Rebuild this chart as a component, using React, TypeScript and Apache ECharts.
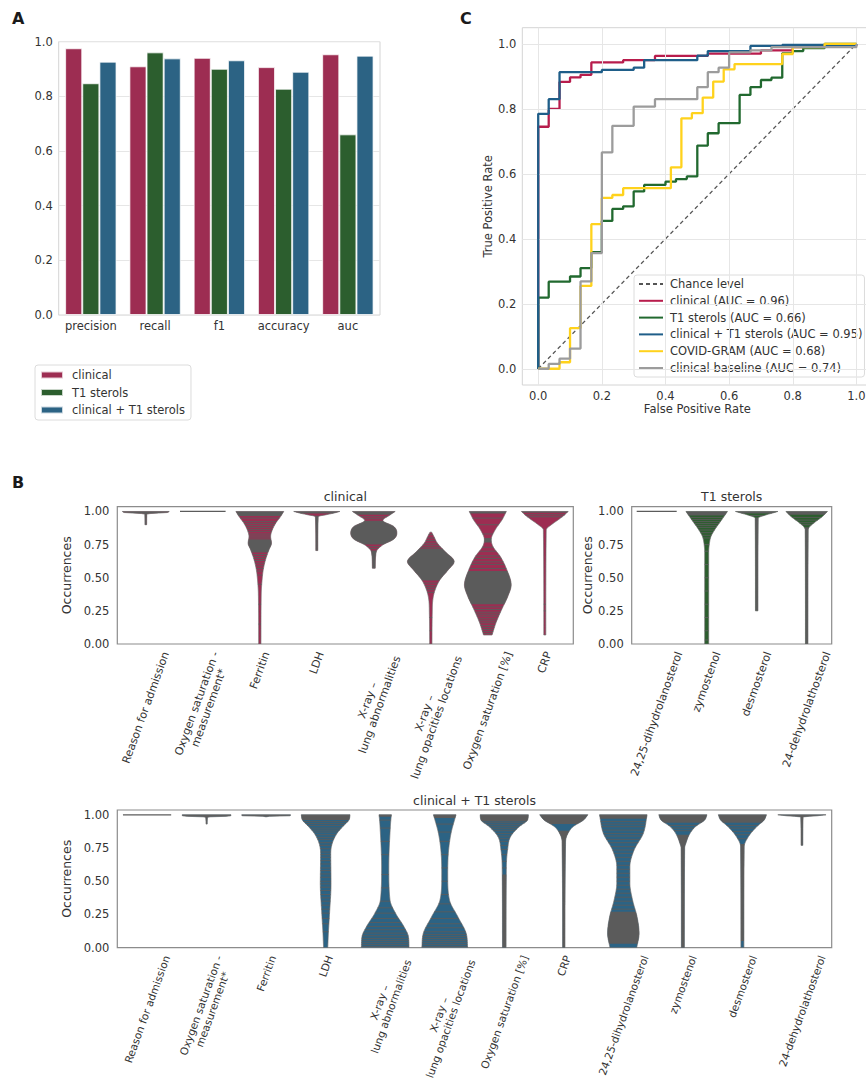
import React, { useEffect, useRef } from 'react';
import * as echarts from 'echarts';

const FONT = '"DejaVu Sans", sans-serif';
const TXT = '#333333';
const GRAY = '#5b5b5b';

// ---------- Panel A : metrics ----------
const metrics = ['precision', 'recall', 'f1', 'accuracy', 'auc'];
const clinicalScores = [0.976, 0.91, 0.941, 0.907, 0.954];
const t1Scores = [0.848, 0.961, 0.901, 0.828, 0.661];
const comboScores = [0.927, 0.939, 0.932, 0.89, 0.949];
const barNames = ['clinical', 'T1 sterols', 'clinical + T1 sterols'];
const barColors = ['#9d2d52', '#2c5e2e', '#2c6384'];

// ---------- Panel C : ROC ----------
const rocNames = [
  'Chance level',
  'clinical (AUC = 0.96)',
  'T1 sterols (AUC = 0.66)',
  'clinical + T1 sterols (AUC = 0.95)',
  'COVID-GRAM (AUC = 0.68)',
  'clinical baseline (AUC = 0.74)',
];
const rocColors = ['#555555', '#b81c4c', '#21692f', '#1f5e89', '#ffd21c', '#9c9c9c'];
const rocChance = [[0, 0], [1, 1]];
const rocClinical = [[0, 0], [0, 0.745], [0.033, 0.8], [0.067, 0.883], [0.1, 0.897], [0.133, 0.905], [0.167, 0.943], [0.267, 0.95], [0.367, 0.963], [0.533, 0.97], [0.7, 0.98], [0.8, 0.99], [0.9, 0.995], [1, 1]];
const rocT1 = [[0, 0], [0, 0.219], [0.033, 0.268], [0.1, 0.284], [0.133, 0.31], [0.167, 0.359], [0.2, 0.455], [0.233, 0.492], [0.267, 0.5], [0.3, 0.546], [0.333, 0.566], [0.4, 0.576], [0.433, 0.584], [0.467, 0.592], [0.5, 0.687], [0.533, 0.725], [0.567, 0.756], [0.633, 0.843], [0.667, 0.867], [0.7, 0.889], [0.733, 0.896], [0.767, 0.971], [0.8, 0.978], [0.833, 0.987], [0.9, 1], [1, 1]];
const rocCombo = [[0, 0], [0, 0.785], [0.033, 0.83], [0.067, 0.913], [0.2, 0.92], [0.3, 0.927], [0.333, 0.95], [0.5, 0.964], [0.533, 0.978], [0.667, 0.994], [0.767, 0.997], [1, 1]];
const rocCovidGram = [[0, 0], [0.067, 0.02], [0.1, 0.125], [0.133, 0.255], [0.167, 0.445], [0.2, 0.526], [0.233, 0.535], [0.267, 0.556], [0.417, 0.62], [0.45, 0.771], [0.483, 0.787], [0.517, 0.835], [0.55, 0.884], [0.583, 0.922], [0.617, 0.938], [0.767, 0.969], [0.8, 0.99], [0.9, 1], [1, 1]];
const rocBaseline = [[0, 0], [0.033, 0.015], [0.067, 0.031], [0.1, 0.062], [0.133, 0.269], [0.167, 0.356], [0.2, 0.666], [0.233, 0.748], [0.3, 0.807], [0.367, 0.83], [0.5, 0.867], [0.533, 0.913], [0.567, 0.927], [0.6, 0.974], [0.667, 0.98], [0.733, 0.99], [1, 1]];
const rocTicks = [0, 0.2, 0.4, 0.6, 0.8, 1.0];

// ---------- Panel B : violins ----------
const clinicalFeatures = [
  'Reason for admission',
  'Oxygen saturation -\nmeasurement*',
  'Ferritin',
  'LDH',
  'X-ray –\nlung abnormalities',
  'X-ray –\nlung opacities locations',
  'Oxygen saturation [%]',
  'CRP',
];
const t1Features = ['24,25-dihydrolanosterol', 'zymostenol', 'desmosterol', '24-dehydrolathosterol'];
const comboFeatures = [...clinicalFeatures, ...t1Features];

// outline: [occurrence value, width as fraction of category]
const clinicalShapes = [
  [[0.9, 0.03], [0.98, 0.035], [0.985, 0.2], [0.992, 0.75], [1.0, 0.82]],
  [[1.0, 0.8]],
  [[0, 0.04], [0.38, 0.05], [0.484, 0.08], [0.559, 0.12], [0.635, 0.2], [0.71, 0.32], [0.761, 0.41], [0.811, 0.38], [0.862, 0.44], [0.912, 0.56], [0.962, 0.73], [1.0, 0.84]],
  [[0.705, 0.035], [0.962, 0.05], [0.975, 0.32], [0.988, 0.6], [1.0, 0.81]],
  [[0.572, 0.05], [0.673, 0.07], [0.71, 0.12], [0.748, 0.32], [0.791, 0.7], [0.837, 0.81], [0.887, 0.7], [0.932, 0.32], [0.975, 0.58], [1.0, 0.75]],
  [[0, 0.04], [0.23, 0.05], [0.333, 0.07], [0.408, 0.15], [0.484, 0.32], [0.559, 0.61], [0.622, 0.82], [0.698, 0.5], [0.761, 0.23], [0.811, 0.11], [0.844, 0.03]],
  [[0.068, 0.15], [0.156, 0.28], [0.257, 0.48], [0.358, 0.7], [0.446, 0.82], [0.559, 0.67], [0.66, 0.44], [0.736, 0.18], [0.786, 0.12], [0.862, 0.26], [0.937, 0.5], [1.0, 0.65]],
  [[0.068, 0.035], [0.862, 0.05], [0.9, 0.23], [0.937, 0.47], [0.975, 0.7], [1.0, 0.82]],
];
const clinicalDense = [
  [[0.9, 1.0]], [], [[0.965, 1.0], [0.69, 0.79]], [[0.985, 1.0], [0.705, 0.968]],
  [[0.975, 1.0], [0.75, 0.93], [0.572, 0.705]], [[0.48, 0.72]], [[0.985, 1.0], [0.3, 0.55], [0.765, 0.8]], [[0.99, 1.0]],
];
const clinicalSticks = [
  [], [],
  [0.95, 0.925, 0.91, 0.895, 0.88, 0.865, 0.85, 0.83, 0.815, 0.8, 0.675, 0.66, 0.645, 0.63, 0.61, 0.59, 0.57, 0.55, 0.52, 0.45, 0.3, 0.15],
  [],
  [0.96, 0.945, 0.735, 0.72],
  [0.825, 0.8, 0.78, 0.76, 0.745, 0.73, 0.46, 0.44, 0.425, 0.41, 0.39, 0.2, 0.1],
  [0.08, 0.095, 0.11, 0.125, 0.14, 0.16, 0.175, 0.19, 0.21, 0.225, 0.24, 0.26, 0.28, 0.57, 0.6, 0.62, 0.645, 0.665, 0.7, 0.73, 0.83, 0.9, 0.95],
  [0.975, 0.96, 0.3, 0.25],
];

const t1Shapes = [
  [[1.0, 0.8]],
  [[0, 0.08], [0.686, 0.08], [0.761, 0.11], [0.811, 0.17], [0.862, 0.32], [0.937, 0.6], [1.0, 0.83]],
  [[0.25, 0.05], [0.95, 0.06], [0.97, 0.3], [0.988, 0.63], [1.0, 0.85]],
  [[0, 0.05], [0.862, 0.06], [0.887, 0.13], [0.925, 0.37], [0.962, 0.63], [1.0, 0.83]],
];
const t1Dense = [[], [[0.97, 1.0]], [[0.25, 0.955], [0.985, 1.0]], [[0, 0.88], [0.975, 1.0]]];
const t1Sticks = [
  [],
  [0.955, 0.94, 0.925, 0.91, 0.895, 0.88, 0.86, 0.84, 0.82, 0.8, 0.75, 0.7, 0.6, 0.5, 0.4, 0.3, 0.2, 0.1, 0.03],
  [0.97],
  [0.955, 0.935, 0.915, 0.9],
];

const comboShapes = [
  [[1.0, 0.81]],
  [[0.93, 0.02], [0.98, 0.03], [0.985, 0.15], [0.99, 0.8], [1.0, 0.82]],
  [[0.985, 0.02], [0.988, 0.03], [0.992, 0.8], [1.0, 0.82]],
  [[0, 0.07], [0.108, 0.09], [0.258, 0.13], [0.484, 0.18], [0.71, 0.17], [0.785, 0.22], [0.86, 0.38], [0.91, 0.57], [0.96, 0.78], [1.0, 0.82]],
  [[0, 0.8], [0.083, 0.78], [0.158, 0.63], [0.258, 0.35], [0.36, 0.16], [0.61, 0.12], [0.86, 0.16], [0.985, 0.2], [1.0, 0.21]],
  [[0, 0.77], [0.108, 0.72], [0.233, 0.44], [0.358, 0.16], [0.534, 0.1], [0.71, 0.12], [0.86, 0.21], [0.97, 0.34], [1.0, 0.38]],
  [[0, 0.06], [0.609, 0.07], [0.734, 0.11], [0.835, 0.21], [0.91, 0.5], [0.96, 0.78], [1.0, 0.81]],
  [[0, 0.04], [0.8, 0.06], [0.86, 0.14], [0.91, 0.31], [0.96, 0.66], [1.0, 0.81]],
  [[0, 0.45], [0.108, 0.53], [0.233, 0.46], [0.358, 0.31], [0.484, 0.22], [0.609, 0.22], [0.734, 0.36], [0.86, 0.67], [1.0, 0.8]],
  [[0, 0.05], [0.75, 0.06], [0.785, 0.1], [0.86, 0.24], [0.91, 0.42], [0.96, 0.73], [1.0, 0.81]],
  [[0, 0.05], [0.76, 0.06], [0.835, 0.2], [0.91, 0.48], [0.96, 0.73], [1.0, 0.81]],
  [[0.77, 0.03], [0.985, 0.04], [0.99, 0.4], [1.0, 0.81]],
];
const comboDense = [
  [], [[0.93, 1.0]], [[0.985, 1.0]], [[0.96, 1.0]], [[0.985, 1.0]], [[0.975, 1.0]],
  [[0.95, 1.0], [0, 0.55]], [[0, 0.88], [0.93, 1.0]], [[0.97, 1.0], [0.03, 0.27]],
  [[0.94, 1.0], [0, 0.85]], [[0.94, 1.0], [0.05, 0.78]], [[0.77, 1.0]],
];
const comboSticks = [
  [], [], [],
  [0.95, 0.935, 0.92, 0.9, 0.885, 0.87, 0.85, 0.83, 0.815, 0.79, 0.77, 0.745, 0.72, 0.7, 0.68, 0.655, 0.63, 0.6, 0.58, 0.555, 0.53, 0.5, 0.48, 0.455, 0.43, 0.4, 0.375, 0.35, 0.32, 0.29, 0.26, 0.22, 0.18, 0.12],
  [0.01, 0.025, 0.04, 0.055, 0.07, 0.09, 0.11, 0.135, 0.16, 0.19, 0.22, 0.26, 0.3, 0.35, 0.45, 0.55, 0.7, 0.8, 0.9, 0.96],
  [0.01, 0.025, 0.04, 0.055, 0.07, 0.085, 0.1, 0.12, 0.15, 0.18, 0.22, 0.27, 0.33, 0.4, 0.5, 0.6, 0.7, 0.8, 0.87, 0.93],
  [0.94, 0.925, 0.91, 0.895, 0.88, 0.86, 0.84, 0.82, 0.8, 0.77, 0.74, 0.7, 0.65, 0.6],
  [],
  [0.95, 0.93, 0.91, 0.885, 0.86, 0.84, 0.815, 0.79, 0.76, 0.735, 0.71, 0.68, 0.65, 0.62, 0.59, 0.56, 0.53, 0.5, 0.47, 0.44, 0.41, 0.38, 0.35, 0.32, 0.29],
  [0.92, 0.9, 0.88],
  [0.92, 0.9, 0.875, 0.85, 0.82],
  [],
];

// ---------- helpers: smooth (monotone cubic) outline through the read profile ----------
const makeWidthFn = (shape: number[][]) => {
  const n = shape.length;
  const ys = shape.map((p) => p[0]);
  const ws = shape.map((p) => p[1]);
  const d: number[] = [];
  for (let k = 0; k < n - 1; k++) d.push((ws[k + 1] - ws[k]) / (ys[k + 1] - ys[k]));
  const m: number[] = new Array(n).fill(0);
  if (n > 1) {
    m[0] = d[0];
    m[n - 1] = d[n - 2];
    for (let k = 1; k < n - 1; k++) m[k] = d[k - 1] * d[k] <= 0 ? 0 : (d[k - 1] + d[k]) / 2;
    for (let k = 0; k < n - 1; k++) {
      if (d[k] === 0) { m[k] = 0; m[k + 1] = 0; continue; }
      const a = m[k] / d[k];
      const b = m[k + 1] / d[k];
      const s = a * a + b * b;
      if (s > 9) {
        const t = 3 / Math.sqrt(s);
        m[k] = t * a * d[k];
        m[k + 1] = t * b * d[k];
      }
    }
  }
  return (v: number) => {
    if (v <= ys[0]) return ws[0];
    if (v >= ys[n - 1]) return ws[n - 1];
    let k = 0;
    while (k < n - 2 && v > ys[k + 1]) k++;
    const h = ys[k + 1] - ys[k];
    const t = (v - ys[k]) / h;
    const t2 = t * t, t3 = t2 * t;
    return (2 * t3 - 3 * t2 + 1) * ws[k] + (t3 - 2 * t2 + t) * h * m[k] + (-2 * t3 + 3 * t2) * ws[k + 1] + (t3 - t2) * h * m[k + 1];
  };
};

const makeViolinRender = (shapes: number[][][], dense: number[][][], sticks: number[][], color: string) => {
  const fns = shapes.map((s) => makeWidthFn(s));
  return (params: any, api: any) => {
    const i = api.value(0);
    const shape = shapes[i];
    const wf = fns[i];
    const band = api.size([1, 0])[0];
    const cx = api.coord([i, 0])[0];
    const py = (v: number) => api.coord([i, v])[1];
    const lo0 = shape[0][0];
    const hi0 = shape[shape.length - 1][0];
    const sampleYs = (a: number, b: number) => {
      const out: number[] = [a];
      const steps = Math.max(2, Math.ceil((b - a) / 0.004));
      for (let s = 1; s < steps; s++) out.push(a + ((b - a) * s) / steps);
      out.push(b);
      return out;
    };
    const outline = (a: number, b: number) => {
      const ys = sampleYs(a, b);
      const right = ys.map((v) => [cx + (wf(v) * band) / 2, py(v)]);
      const left = ys.slice().reverse().map((v) => [cx - (wf(v) * band) / 2, py(v)]);
      return right.concat(left);
    };
    const children: any[] = [];
    if (shape.length === 1) {
      const [v, w] = shape[0];
      children.push({
        type: 'line',
        shape: { x1: cx - (w * band) / 2, y1: py(v), x2: cx + (w * band) / 2, y2: py(v) },
        style: { stroke: GRAY, lineWidth: 1.3 },
      });
      return { type: 'group', children };
    }
    children.push({ type: 'polygon', shape: { points: outline(lo0, hi0) }, style: { fill: color, stroke: 'none' } });
    dense[i].forEach(([lo, hi]) => {
      const a = Math.max(lo, lo0);
      const b = Math.min(hi, hi0);
      if (b > a) children.push({ type: 'polygon', shape: { points: outline(a, b) }, style: { fill: GRAY, stroke: 'none' } });
    });
    sticks[i].forEach((v) => {
      const w = wf(v);
      children.push({
        type: 'line',
        shape: { x1: cx - (w * band) / 2, y1: py(v), x2: cx + (w * band) / 2, y2: py(v) },
        style: { stroke: GRAY, lineWidth: 0.9 },
      });
    });
    children.push({ type: 'polygon', shape: { points: outline(lo0, hi0) }, style: { fill: 'none', stroke: '#6a6a6a', lineWidth: 0.7 } });
    return { type: 'group', children };
  };
};

const rocLabel = (v: number) => {
  if (v < -1e-6 || v > 1 + 1e-6) return '';
  return Math.abs(v / 0.2 - Math.round(v / 0.2)) < 1e-4 ? v.toFixed(1) : '';
};
const violinLabel = (v: number) =>
  Math.abs(v * 4 - Math.round(v * 4)) < 1e-4 && v <= 1.0001 ? v.toFixed(2) : '';

export default function App() {
  const ref = useRef<HTMLDivElement>(null);
  useEffect(() => {
    const el = ref.current;
    if (!el) return;
    const chart = echarts.init(el, null, { renderer: 'svg' });
    const axisText = { fontSize: 11.5, color: TXT, fontFamily: FONT };

    const violinGrid = (left: number, top: number, width: number, height: number) => ({
      left, top, width, height, show: true, borderColor: '#8c8c8c', borderWidth: 1.2, outerBoundsMode: 'none',
    });
    const violinX = (gridIndex: number, data: string[]) => ({
      gridIndex, type: 'category', data,
      axisLabel: { show: false }, axisTick: { show: false }, axisLine: { show: false }, splitLine: { show: false },
    });
    const violinY = (gridIndex: number) => ({
      gridIndex, type: 'value', min: 0, max: 1.036, interval: 0.25,
      axisLabel: { ...axisText, formatter: violinLabel, margin: 8 },
      axisTick: { show: false }, axisLine: { show: false }, splitLine: { show: false },
      name: 'Occurrences', nameLocation: 'middle', nameGap: 38,
      nameTextStyle: { fontSize: 12.5, color: TXT, fontFamily: FONT },
    });

    const rocSeriesData = [rocChance, rocClinical, rocT1, rocCombo, rocCovidGram, rocBaseline];

    const option: any = {
      animation: false,
      textStyle: { fontFamily: FONT },
      grid: [
        { left: 58.7, top: 41.7, width: 321.3, height: 273.3, show: true, borderColor: '#d4d4d4', borderWidth: 1, outerBoundsMode: 'none' },
        { left: 522.3, top: 27.7, width: 350, height: 357.3, show: true, borderColor: '#d4d4d4', borderWidth: 1, outerBoundsMode: 'none' },
        violinGrid(117.3, 506.7, 456, 137.3),
        violinGrid(631.7, 506.7, 200, 137.3),
        violinGrid(117.3, 810, 714.4, 137.7),
      ],
      xAxis: [
        { gridIndex: 0, type: 'category', data: metrics, axisTick: { show: false }, axisLine: { show: false }, axisLabel: { ...axisText, margin: 5, interval: 0 } },
        {
          gridIndex: 1, type: 'value', min: -0.05, max: 1.05, interval: 0.05,
          axisLabel: { ...axisText, formatter: rocLabel, margin: 5 },
          axisTick: { show: false }, axisLine: { show: false }, splitLine: { show: false },
          name: 'False Positive Rate', nameLocation: 'middle', nameGap: 18,
          nameTextStyle: { fontSize: 11.5, color: TXT, fontFamily: FONT, verticalAlign: 'top' },
        },
        violinX(2, clinicalFeatures),
        violinX(3, t1Features),
        violinX(4, comboFeatures),
      ],
      yAxis: [
        {
          gridIndex: 0, type: 'value', min: 0, max: 1, interval: 0.2,
          axisLabel: { ...axisText, formatter: (v: number) => v.toFixed(1), margin: 6 },
          axisTick: { show: false }, axisLine: { show: false },
          splitLine: { lineStyle: { color: '#e6e6e6', width: 1 } },
        },
        {
          gridIndex: 1, type: 'value', min: -0.05, max: 1.05, interval: 0.05,
          axisLabel: { ...axisText, formatter: rocLabel, margin: 6 },
          axisTick: { show: false }, axisLine: { show: false }, splitLine: { show: false },
          name: 'True Positive Rate', nameLocation: 'middle', nameGap: 27,
          nameTextStyle: { fontSize: 11.5, color: TXT, fontFamily: FONT },
        },
        violinY(2),
        violinY(3),
        violinY(4),
      ],
      legend: [
        {
          data: barNames, left: 35, top: 365, orient: 'vertical', icon: 'rect',
          itemWidth: 22, itemHeight: 7, itemGap: 3.5, padding: [3, 6, 3, 5],
          borderColor: '#dcdcdc', borderWidth: 1, borderRadius: 3, selectedMode: false,
          textStyle: { fontSize: 11.5, color: TXT, fontFamily: FONT, lineHeight: 14, padding: [0, 0, 0, 4] },
        },
        {
          data: rocNames, left: 634, top: 275, orient: 'vertical',
          itemWidth: 24, itemHeight: 12, itemGap: 4.8, padding: [3, 2, 3, 4],
          borderColor: '#dcdcdc', borderWidth: 1, borderRadius: 3, selectedMode: false,
          backgroundColor: 'rgba(255,255,255,0.85)',
          itemStyle: { opacity: 0 },
          textStyle: { fontSize: 11.5, color: TXT, fontFamily: FONT, padding: [0, 0, 0, 2] },
        },
      ],
      series: [
        ...[clinicalScores, t1Scores, comboScores].map((d, k) => ({
          type: 'bar', name: barNames[k], xAxisIndex: 0, yAxisIndex: 0, data: d,
          barGap: '0%', barCategoryGap: '20%',
          itemStyle: { color: barColors[k], borderColor: 'rgba(255,255,255,0.75)', borderWidth: 1 },
        })),
        {
          type: 'line', name: '_grid', xAxisIndex: 1, yAxisIndex: 1, data: [[0, 0]], symbol: 'none',
          lineStyle: { opacity: 0 }, silent: true, z: 1,
          markLine: {
            silent: true, symbol: ['none', 'none'], label: { show: false },
            lineStyle: { color: '#e6e6e6', width: 1, type: 'solid' },
            data: [...rocTicks.map((v) => ({ xAxis: v })), ...rocTicks.map((v) => ({ yAxis: v }))],
          },
        },
        ...rocSeriesData.map((d, k) => ({
          type: 'line', name: rocNames[k], xAxisIndex: 1, yAxisIndex: 1, data: d,
          symbol: 'none', showSymbol: false, step: k === 0 ? false : 'end', z: 3 + k,
          lineStyle: k === 0
            ? { color: rocColors[k], width: 1.3, type: [4, 3] }
            : { color: rocColors[k], width: 2.3 },
          itemStyle: { color: rocColors[k] },
        })),
        {
          type: 'custom', name: 'v-clinical', xAxisIndex: 2, yAxisIndex: 2, clip: true,
          data: clinicalShapes.map((_, i) => [i, 0]), encode: { x: 0, y: 1 },
          renderItem: makeViolinRender(clinicalShapes, clinicalDense, clinicalSticks, barColors[0]),
        },
        {
          type: 'custom', name: 'v-t1', xAxisIndex: 3, yAxisIndex: 3, clip: true,
          data: t1Shapes.map((_, i) => [i, 0]), encode: { x: 0, y: 1 },
          renderItem: makeViolinRender(t1Shapes, t1Dense, t1Sticks, barColors[1]),
        },
        {
          type: 'custom', name: 'v-combo', xAxisIndex: 4, yAxisIndex: 4, clip: true,
          data: comboShapes.map((_, i) => [i, 0]), encode: { x: 0, y: 1 },
          renderItem: makeViolinRender(comboShapes, comboDense, comboSticks, barColors[2]),
        },
      ],
    };
    chart.setOption(option);

    // rotated tick labels, bounding box centred under each tick (as matplotlib does)
    const ctx = document.createElement('canvas').getContext('2d') as CanvasRenderingContext2D;
    const theta = (70 * Math.PI) / 180;
    const labelEls: any[] = [];
    const addLabels = (gridIndex: number, labels: string[], fontSize: number, pad: number) => {
      const font = `${fontSize}px "DejaVu Sans"`;
      ctx.font = font;
      const lineH = fontSize * 1.15;
      labels.forEach((lab, i) => {
        const p = chart.convertToPixel({ gridIndex } as any, [i, 0]) as number[];
        const lines = lab.split('\n');
        const L = Math.max(...lines.map((s) => ctx.measureText(s).width));
        const h = lines.length * lineH;
        const H = L * Math.sin(theta) + h * Math.cos(theta);
        labelEls.push({
          type: 'text', x: p[0], y: p[1] + pad + H / 2, rotation: theta, silent: true,
          style: {
            text: lab, x: 0, y: 0, align: 'center', verticalAlign: 'middle',
            textAlign: 'center', textVerticalAlign: 'middle',
            font, fontSize, fontFamily: 'DejaVu Sans', fill: TXT, lineHeight: lineH,
          },
        });
      });
    };
    addLabels(2, clinicalFeatures, 11, 6);
    addLabels(3, t1Features, 11, 6);
    addLabels(4, comboFeatures, 10.6, 6);

    const titleText = (text: string, x: number, y: number) => ({
      type: 'text', x, y, silent: true,
      style: {
        text, align: 'center', verticalAlign: 'middle', textAlign: 'center', textVerticalAlign: 'middle',
        font: '12.5px "DejaVu Sans"', fontSize: 12.5, fontFamily: 'DejaVu Sans', fill: TXT,
      },
    });
    const panelLetter = (text: string, x: number, y: number) => ({
      type: 'text', x, y, silent: true,
      style: { text, font: 'bold 16px "DejaVu Sans"', fontSize: 16, fontWeight: 'bold', fontFamily: 'DejaVu Sans', fill: '#1a1a1a' },
    });
    chart.setOption({
      graphic: [
        panelLetter('A', 12, 10),
        panelLetter('C', 460, 10),
        panelLetter('B', 12, 474),
        titleText('clinical', 345.3, 496),
        titleText('T1 sterols', 731.7, 496),
        titleText('clinical + T1 sterols', 474.5, 800),
        ...labelEls,
      ],
    });

    return () => chart.dispose();
  }, []);
  return <div ref={ref} style={{ position: 'absolute', left: 0, top: 0, width: 866, height: 1081 }} />;
}
